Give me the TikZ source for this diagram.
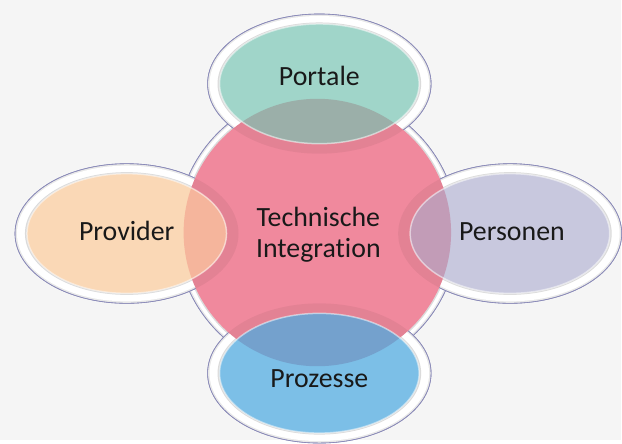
\documentclass[tikz,border=0pt]{standalone}
\usepackage{fontspec}
\setmainfont{Carlito}[Ligatures=NoCommon]
\usetikzlibrary{positioning}

\definecolor{hgrund}{HTML}{F5F5F5}
\definecolor{randlinie}{HTML}{8A8AB8}
\definecolor{rosa}{HTML}{F0899D}
\definecolor{tuerkis}{HTML}{A0D5C9}
\definecolor{pfirsich}{HTML}{FAD8B6}
\definecolor{lavendel}{HTML}{C8C8DE}
\definecolor{himmel}{HTML}{7CBFE7}
\definecolor{tuerkismix}{HTML}{9BAFA9}
\definecolor{pfirsichmix}{HTML}{F5B59C}
\definecolor{lavendelmix}{HTML}{C29CB7}
\definecolor{himmelmix}{HTML}{74A1CD}

\tikzset{
    satrand/.style={fill=gray!18, draw=randlinie, line width=0.6bp},
    satweiss/.style={fill=white},
    satschatten/.style={fill=gray!28},
    beschriftung/.style={font=\fontsize{28}{31}\selectfont, text=black!90, inner sep=0pt}
}

\begin{document}
\begin{tikzpicture}[x=1bp,y=-1bp]
    % Hintergrund
    \fill[hgrund] (0,0) rectangle (622,441);

    % Ring des Kreises
    \fill[satrand] (318,233) circle (141);
    \draw[randlinie, line width=0.6bp] (318,233) circle (141);
    \fill[satweiss] (318,233) circle (139);
    \fill[satschatten] (318,233) circle (135.5);

    % Ringe der Ellipsen
    \foreach \px/\py in {320/84, 127/234, 511/234, 320/374} {
        \fill[satrand] (\px,\py) ellipse [x radius=112, y radius=70];
        \draw[randlinie, line width=0.6bp] (\px,\py) ellipse [x radius=112, y radius=70];
        \fill[satweiss] (\px,\py) ellipse [x radius=110, y radius=68];
        \fill[satschatten] (\px,\py) ellipse [x radius=102, y radius=61.5];
    }

    % Kreis
    \fill[rosa] (318,233) circle (134);
    \begin{scope}
        \clip (318,233) circle (134);
        \foreach \px/\py in {320/84, 127/234, 511/234, 320/374} {
            \fill[black, opacity=0.05] (\px,\py) ellipse [x radius=112, y radius=70];
        }
    \end{scope}

    % Ellipsen mit Ueberschneidung
    \foreach \name/\px/\py/\farbe/\mix/\tx/\ty/\txt in {
        portale/320/84/tuerkis/tuerkismix/320/86/Portale,
        provider/127/234/pfirsich/pfirsichmix/127/241/Provider,
        personen/511/234/lavendel/lavendelmix/513/241/Personen,
        prozesse/320/374/himmel/himmelmix/320/388/Prozesse} {
        \fill[\farbe] (\px,\py) ellipse [x radius=100, y radius=60];
        \begin{scope}
            \clip (318,233) circle (134);
            \fill[\mix] (\px,\py) ellipse [x radius=100, y radius=60];
        \end{scope}
        \draw[white, opacity=0.5, line width=1.5bp] (\px,\py) ellipse [x radius=100, y radius=60];
        \node[beschriftung, anchor=base] (\name) at (\tx,\ty) {\txt};
    }

    % Mitte
    \node[beschriftung, align=center] (technik) at (319,235) {Technische\\Integration};
\end{tikzpicture}
\end{document}
